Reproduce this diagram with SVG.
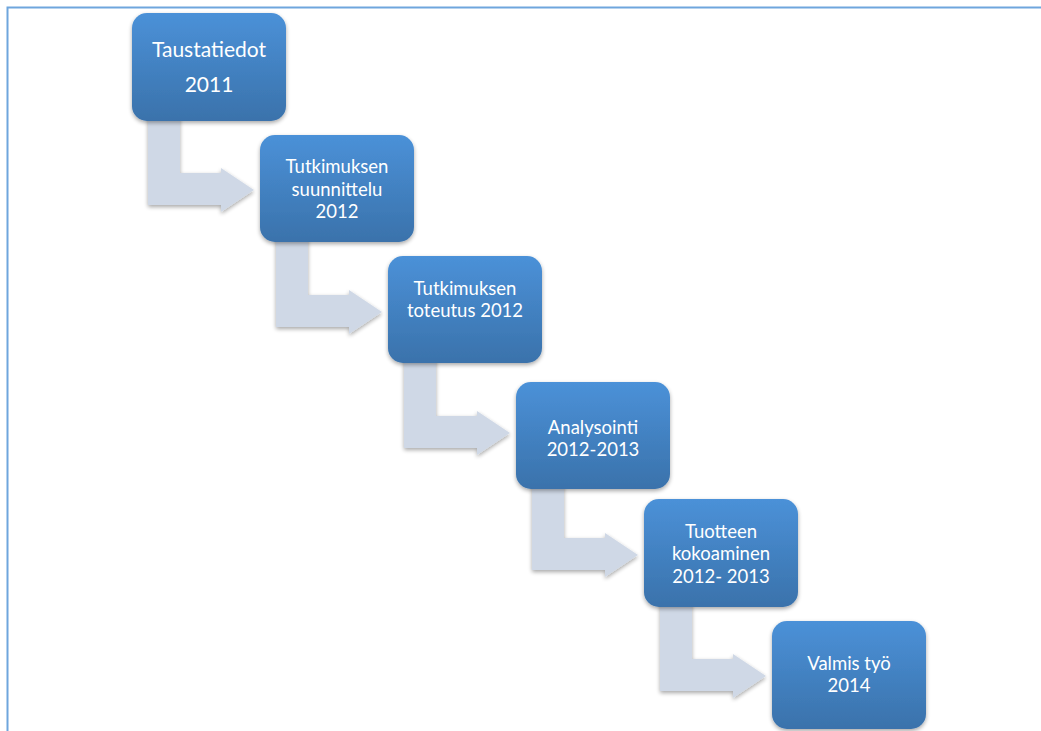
<svg xmlns="http://www.w3.org/2000/svg" width="1041" height="731" viewBox="0 0 1041 731">
<defs>
<linearGradient id="g" x1="0" y1="0" x2="0" y2="1">
<stop offset="0" stop-color="#4b91d8"/>
<stop offset="1" stop-color="#3a72ab"/>
</linearGradient>
<filter id="sh" x="-10%" y="-10%" width="125%" height="130%">
<feGaussianBlur in="SourceAlpha" stdDeviation="2"/>
<feOffset dx="0" dy="2" result="b"/>
<feComponentTransfer><feFuncA type="linear" slope="0.35"/></feComponentTransfer>
<feMerge><feMergeNode/><feMergeNode in="SourceGraphic"/></feMerge>
</filter>
</defs>
<style>
.box{fill:url(#g);filter:url(#sh)}
.arr{fill:#cfd8e6;filter:url(#sh)}
.t{fill:#ffffff;font-family:Lato,"Open Sans","Liberation Sans",sans-serif;font-size:18.5px;text-anchor:middle}
.big{font-size:21px}
.frame{stroke:#6fa6dd;stroke-width:2;fill:none}
</style>
<rect width="1041" height="731" fill="#ffffff"/>
<path class="frame" d="M7.5,731 V7.5 H1041"/>
<g id="connectors">
<path class="arr" d="M148,113 H180 V173 H221 V168 L254,190 L221,212 V205 H148 Z"/>
<path class="arr" d="M276,235 H308 V295 H349 V290 L382,312 L349,334 V327 H276 Z"/>
<path class="arr" d="M404,356 H436 V416 H477 V411 L510,433 L477,455 V448 H404 Z"/>
<path class="arr" d="M532,478 H564 V538 H605 V533 L638,555 L605,577 V570 H532 Z"/>
<path class="arr" d="M660,599 H692 V659 H733 V654 L766,676 L733,698 V691 H660 Z"/>
</g>
<g id="n1">
<rect class="box" x="132" y="13" width="154" height="108" rx="15"/>
<text class="t big" x="209" y="57">Taustatiedot</text>
<text class="t big" x="209" y="92">2011</text>
</g>
<g id="n2">
<rect class="box" x="260" y="135" width="154" height="107" rx="15"/>
<text class="t" x="337" y="173">Tutkimuksen</text>
<text class="t" x="337" y="195.5">suunnittelu</text>
<text class="t" x="337" y="218">2012</text>
</g>
<g id="n3">
<rect class="box" x="388" y="256" width="154" height="107" rx="15"/>
<text class="t" x="465" y="295">Tutkimuksen</text>
<text class="t" x="465" y="317">toteutus 2012</text>
</g>
<g id="n4">
<rect class="box" x="516" y="382" width="154" height="107" rx="15"/>
<text class="t" x="593" y="434">Analysointi</text>
<text class="t" x="593" y="456">2012-2013</text>
</g>
<g id="n5">
<rect class="box" x="644" y="499" width="154" height="108" rx="15"/>
<text class="t" x="721" y="538">Tuotteen</text>
<text class="t" x="721" y="560">kokoaminen</text>
<text class="t" x="721" y="583">2012- 2013</text>
</g>
<g id="n6">
<rect class="box" x="772" y="621" width="154" height="108" rx="15"/>
<text class="t" x="849" y="670">Valmis työ</text>
<text class="t" x="849" y="692">2014</text>
</g>
</svg>
